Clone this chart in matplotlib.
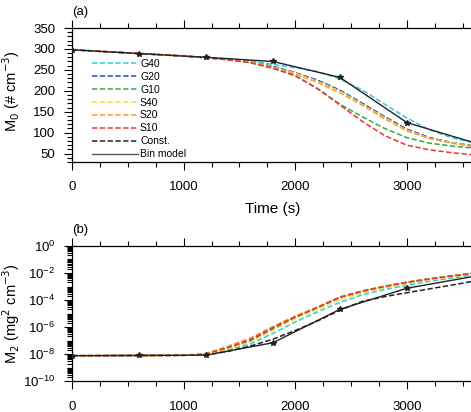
import numpy as np
import matplotlib
matplotlib.use('Agg')
import matplotlib.pyplot as plt
from matplotlib.ticker import MultipleLocator, FixedLocator, NullFormatter

plt.rcParams['font.family'] = ['Liberation Sans', 'DejaVu Sans']

# time axis for the parameterised runs and the bin model
t_param = [0, 200, 400, 600, 800, 1000, 1200, 1400, 1600, 1800,
           2000, 2200, 2400, 2600, 2800, 3000, 3200, 3400, 3600]
t_bin = [0, 600, 1200, 1800, 2400, 3000, 3600]

series_names = ['G40', 'G20', 'G10', 'S40', 'S20', 'S10', 'Const.']
series_colors = ['#33ccdd', '#1a4fd6', '#33aa44', '#eedd44', '#ff9933', '#ee3333', '#222222']

# (a) M0, number concentration (# cm-3)
m0_g40 = [298, 295, 292, 289, 286, 283, 280, 276, 271, 263, 255, 246, 228, 202, 168, 135, 107, 88, 76]
m0_g20 = [298, 295, 292, 289, 286, 283, 279, 275, 269, 258, 243, 225, 201, 170, 138, 108, 88, 76, 68]
m0_g10 = [298, 295, 292, 289, 286, 283, 279, 274, 267, 254, 236, 205, 168, 138, 110, 88, 75, 68, 63]
m0_s40 = [298, 295, 292, 289, 286, 283, 279, 275, 269, 257, 242, 223, 199, 168, 136, 106, 87, 76, 68]
m0_s20 = [298, 295, 292, 289, 286, 283, 279, 275, 268, 256, 240, 220, 195, 166, 133, 104, 86, 75, 67]
m0_s10 = [298, 295, 292, 289, 286, 283, 279, 274, 267, 254, 236, 205, 166, 127, 93, 70, 59, 52, 47]
m0_const = [298, 295, 292, 289, 286, 283, 279, 275, 269, 258, 243, 225, 201, 170, 138, 108, 88, 76, 68]
m0_bin = [298, 289, 280, 270, 232, 124, 76]

# (b) M2, log10 of (mg2 cm-3)
m2_g40 = [-8.12, -8.12, -8.11, -8.11, -8.10, -8.09, -8.05, -7.70, -7.25, -6.47,
          -5.62, -4.88, -4.17, -3.62, -3.22, -2.92, -2.62, -2.38, -2.14]
m2_g20 = [-8.12, -8.12, -8.11, -8.11, -8.10, -8.09, -8.02, -7.55, -6.95, -6.05,
          -5.25, -4.55, -3.80, -3.35, -3.00, -2.70, -2.45, -2.23, -2.03]
m2_g10 = [-8.12, -8.12, -8.11, -8.11, -8.10, -8.09, -8.06, -7.68, -7.05, -6.15,
          -5.28, -4.55, -3.78, -3.33, -2.98, -2.68, -2.42, -2.20, -2.00]
m2_s40 = [-8.12, -8.12, -8.11, -8.11, -8.10, -8.09, -8.04, -7.62, -7.10, -6.25,
          -5.40, -4.70, -3.95, -3.48, -3.10, -2.80, -2.52, -2.28, -2.06]
m2_s20 = [-8.12, -8.12, -8.11, -8.11, -8.10, -8.08, -7.95, -7.40, -6.80, -5.95,
          -5.18, -4.50, -3.78, -3.33, -2.98, -2.68, -2.43, -2.21, -2.01]
m2_s10 = [-8.12, -8.12, -8.11, -8.11, -8.10, -8.09, -8.00, -7.50, -6.92, -6.05,
          -5.25, -4.55, -3.80, -3.35, -3.00, -2.70, -2.45, -2.23, -2.03]
m2_const = [-8.12, -8.12, -8.11, -8.11, -8.10, -8.09, -8.07, -7.80, -7.40, -6.90,
            -6.25, -5.55, -4.75, -4.10, -3.75, -3.46, -3.18, -2.90, -2.60]
m2_bin = [-8.12, -8.10, -8.08, -7.16, -4.69, -3.13, -2.25]

m0_series = [m0_g40, m0_g20, m0_g10, m0_s40, m0_s20, m0_s10, m0_const]
m2_series = [m2_g40, m2_g20, m2_g10, m2_s40, m2_s20, m2_s10, m2_const]

fig = plt.figure(figsize=(4.71, 4.12), dpi=100)
ax1 = fig.add_axes([0.153, 0.607, 0.853, 0.325])
ax2 = fig.add_axes([0.153, 0.075, 0.853, 0.328])

dash = (3.5, 1.6)

def style_axis(ax):
    ax.set_xlim(0, 3600)
    ax.xaxis.set_major_locator(MultipleLocator(1000))
    ax.xaxis.set_minor_locator(MultipleLocator(250))
    ax.tick_params(which='both', direction='out', top=True, right=True, labelsize=9.5, width=0.8)
    ax.tick_params(which='major', length=6)
    ax.tick_params(which='minor', length=3.5)
    ax.tick_params(axis='x', pad=8)
    ax.tick_params(axis='y', pad=6)
    for s in ax.spines.values():
        s.set_linewidth(0.9)

# panel (a); Const. sits underneath the other dashed lines
for name, col, y in zip(series_names, series_colors, m0_series):
    z = 1.5 if name == 'Const.' else 2
    ax1.plot(t_param, y, color=col, lw=1.1, dashes=dash, label=name, zorder=z)
ax1.plot(t_bin, m0_bin, color='#222222', lw=1.0, marker='*', ms=4, label='Bin model', zorder=3)
style_axis(ax1)
ax1.set_ylim(30, 350)
ax1.yaxis.set_major_locator(MultipleLocator(50))
ax1.yaxis.set_minor_locator(MultipleLocator(10))
ax1.set_xlabel('Time (s)', fontsize=11, labelpad=6)
ax1.set_ylabel('M$_0$ (# cm$^{-3}$)', fontsize=10.5)
ax1.yaxis.set_label_coords(-0.125, 0.53)
ax1.annotate('(a)', xy=(0, 1), xycoords='axes fraction', xytext=(0, 7),
             textcoords='offset points', fontsize=9.5, va='bottom')

# legend: the Bin model line is drawn without its star marker
handles, labels = ax1.get_legend_handles_labels()
leg = ax1.legend(handles, labels, loc='upper left', bbox_to_anchor=(0.05, 0.77),
                 frameon=False, fontsize=7.5, handlelength=4.4, handletextpad=0.2,
                 labelspacing=0.28, borderpad=0, borderaxespad=0)
leg.legend_handles[-1].set_marker('')
leg.legend_handles[-1].set_color('#555555')

# panel (b)
for name, col, y in zip(series_names, series_colors, m2_series):
    z = 1.5 if name == 'Const.' else 2
    ax2.plot(t_param, 10 ** np.array(y), color=col, lw=1.1, dashes=dash, zorder=z)
ax2.plot(t_bin, 10 ** np.array(m2_bin), color='#222222', lw=1.0, marker='*', ms=4, zorder=3)
ax2.set_yscale('log')
style_axis(ax2)
ax2.set_ylim(1e-10, 1)
ax2.yaxis.set_major_locator(FixedLocator([10.0 ** k for k in range(-10, 1, 2)]))
minor = [m * 10.0 ** k for k in range(-10, 0) for m in range(1, 10)]
ax2.yaxis.set_minor_locator(FixedLocator(minor))
ax2.yaxis.set_minor_formatter(NullFormatter())
ax2.set_ylabel('M$_2$ (mg$^2$ cm$^{-3}$)', fontsize=10.5)
ax2.yaxis.set_label_coords(-0.125, 0.5)
ax2.annotate('(b)', xy=(0, 1), xycoords='axes fraction', xytext=(0, 7),
             textcoords='offset points', fontsize=9.5, va='bottom')

fig.savefig('out.png', dpi=100)
